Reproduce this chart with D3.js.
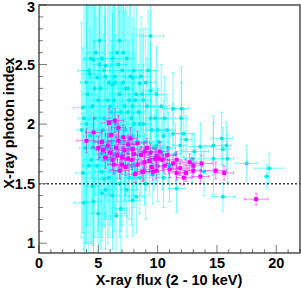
<!DOCTYPE html>
<html>
<head>
<meta charset="utf-8">
<script src="https://cdn.jsdelivr.net/npm/d3@7"></script>
<style>
  body { margin: 0; background: #fff; }
  text { font-family: "Liberation Sans", Arial, sans-serif; font-weight: bold; }
</style>
</head>
<body>
<div id="chart"></div>
<script>
// cyan sample: flux, photon index, and their errors
var cyanX = [9.4, 4.6, 4.2, 4.3, 4.9, 3.7, 11.3, 12.0, 12.0, 11.3, 12.2, 12.4, 15.4, 15.8, 15.5, 13.6, 14.7, 13.1, 14.7, 15.9,
  17.5, 19.4, 19.2, 15.5, 11.6, 3.7, 4.5, 3.8, 4.6, 5.0, 6.5, 6.9, 5.3, 7.9, 8.2, 5.5,
  5.2, 5.8, 6.1, 6.4, 6.8, 7.2, 7.5, 7.8, 8.1, 8.4, 8.8, 9.1, 9.5, 9.8,
  4.0, 4.3, 4.7, 5.0, 5.4, 5.7, 6.0, 6.3, 6.6, 6.9, 7.3, 7.6, 7.9, 8.3, 8.6, 9.0, 9.3, 9.7, 10.1, 10.4, 10.8,
  4.1, 4.5, 4.8, 5.1, 5.6, 6.2, 6.6, 7.0, 7.4, 7.7, 8.0, 8.6, 9.0, 9.9, 10.3, 10.6,
  4.4, 4.9, 5.3, 5.9, 6.4, 6.8, 7.2, 7.6, 8.0, 8.5, 8.9, 9.6, 10.0, 10.5, 11.0, 11.5,
  3.9, 3.6, 5.5, 6.5, 7.5, 8.5, 9.2, 12.9, 13.9, 10.5, 9.9, 5.6, 6.7, 7.1, 7.9, 8.5, 6.2, 9.4,
  4.0, 4.4, 5.0, 5.3, 5.9, 6.0, 6.3, 6.9, 7.3, 7.6, 8.2, 8.8, 3.8, 4.2, 4.6, 5.2, 5.8, 6.2, 7.0, 7.8,
  8.0, 9.4, 10.0, 10.9, 5.6, 6.2, 7.4, 9.0, 11.9,
  4.7, 5.5, 6.4, 7.1, 7.9, 8.7, 5.1, 6.8];
var cyanY = [2.74, 2.54, 2.45, 2.42, 2.39, 2.14, 2.13, 2.13, 2.05, 1.92, 1.92, 1.87, 1.88, 1.82, 1.79, 1.81, 1.82, 1.77, 1.71, 1.71,
  1.67, 1.63, 1.56, 1.39, 1.46, 1.59, 1.48, 1.34, 1.35, 1.25, 1.23, 1.29, 1.42, 1.36, 1.39, 1.54,
  2.30, 2.20, 2.10, 2.35, 2.25, 2.15, 2.30, 2.05, 2.20, 2.10, 2.00, 2.15, 1.95, 2.05,
  2.00, 1.90, 2.05, 1.85, 1.95, 1.80, 1.90, 1.75, 1.95, 1.85, 1.95, 1.80, 1.90, 1.85, 1.75, 1.85, 1.70, 1.80, 1.85, 1.75, 1.95,
  2.25, 2.15, 2.60, 2.70, 2.40, 2.55, 2.60, 2.45, 2.55, 2.40, 2.45, 2.40, 2.35, 2.25, 2.15, 2.05,
  1.70, 1.65, 1.60, 1.55, 1.60, 1.50, 1.65, 1.55, 1.65, 1.55, 1.62, 1.58, 1.65, 1.55, 1.65, 1.75,
  1.80, 1.95, 2.05, 2.00, 2.10, 2.00, 2.45, 1.71, 1.60, 1.90, 1.82, 2.49, 2.50, 2.60, 2.39, 2.34, 2.33, 2.28,
  2.35, 2.55, 2.20, 2.55, 2.35, 2.15, 2.20, 2.10, 2.30, 2.20, 2.25, 2.20, 2.05, 1.65, 1.80, 1.75, 1.70, 1.85, 1.75, 1.65,
  2.00, 2.05, 1.95, 1.80, 1.45, 1.40, 1.45, 1.50, 1.82,
  2.30, 2.45, 2.40, 2.35, 2.15, 2.25, 2.50, 2.70];
var cyanXErr = [1.1, 0.8, 0.9, 0.6, 0.7, 0.8, 0.9, 0.6, 0.5, 0.7, 0.8, 0.5, 0.9, 0.4, 0.6, 0.9, 0.8, 1.2, 0.8, 0.5,
  0.9, 1.2, 0.2, 1.0, 0.7, 0.6, 0.5, 0.8, 0.6, 0.6, 0.9, 0.5, 0.7, 0.6, 0.7, 0.8,
  0.6, 0.5, 0.7, 0.5, 0.8, 0.6, 0.5, 0.7, 0.6, 0.5, 0.7, 0.6, 0.8, 0.5,
  0.5, 0.6, 0.5, 0.7, 0.6, 0.5, 0.6, 0.7, 0.5, 0.6, 0.8, 0.6, 0.5, 0.7, 0.6, 0.6, 0.5, 0.7, 0.8, 0.6, 0.7,
  0.4, 0.7, 0.6, 0.5, 0.7, 0.6, 0.5, 0.7, 0.6, 0.5, 0.6, 0.6, 0.7, 0.6, 0.7, 0.6,
  0.6, 0.5, 0.6, 0.7, 0.5, 0.6, 0.6, 0.7, 0.5, 0.6, 0.7, 0.6, 0.5, 0.7, 0.6, 0.5,
  0.5, 0.4, 0.6, 0.6, 0.5, 0.5, 0.6, 0.6, 0.8, 0.6, 0.7, 0.5, 0.7, 0.5, 0.6, 0.5, 0.7, 0.6,
  0.5, 0.6, 0.5, 0.6, 0.5, 0.6, 0.7, 0.5, 0.6, 0.5, 0.6, 0.5, 0.5, 0.5, 0.6, 0.5, 0.6, 0.5, 0.6, 0.5,
  0.6, 0.6, 0.6, 0.6, 0.5, 0.6, 0.5, 0.6, 0.6,
  0.6, 0.5, 0.7, 0.6, 0.5, 0.6, 0.7, 0.5];
var cyanYErr = [0.6, 0.7, 0.8, 0.6, 0.5, 0.5, 0.3, 0.35, 0.3, 0.25, 0.2, 0.2, 0.22, 0.2, 0.18, 0.2, 0.25, 0.15, 0.3, 0.2,
  0.15, 0.12, 0.1, 0.12, 0.2, 0.5, 0.5, 0.5, 0.45, 0.4, 0.35, 0.4, 0.4, 0.3, 0.3, 0.4,
  0.7, 0.8, 0.6, 0.9, 0.7, 0.8, 0.6, 0.5, 0.6, 0.4, 0.5, 0.4, 0.35, 0.4,
  1.0, 0.9, 1.0, 0.7, 0.8, 0.6, 0.7, 0.5, 0.6, 0.5, 0.55, 0.45, 0.5, 0.4, 0.35, 0.4, 0.3, 0.35, 0.3, 0.3, 0.3,
  1.1, 0.9, 1.2, 1.0, 0.8, 0.9, 1.0, 0.7, 0.8, 0.6, 0.7, 0.5, 0.45, 0.4, 0.35, 0.35,
  0.7, 0.6, 0.55, 0.5, 0.5, 0.45, 0.4, 0.35, 0.35, 0.3, 0.3, 0.25, 0.3, 0.25, 0.3, 0.25,
  0.8, 0.9, 0.85, 0.75, 0.6, 0.45, 0.5, 0.2, 0.2, 0.3, 0.3, 0.6, 0.7, 0.8, 0.5, 0.45, 0.6, 0.4,
  1.2, 1.0, 1.1, 0.9, 1.0, 1.0, 0.9, 1.0, 0.9, 0.8, 0.8, 0.6, 1.1, 0.8, 0.9, 0.8, 0.7, 0.8, 0.6, 0.5,
  0.6, 0.5, 0.35, 0.3, 0.5, 0.45, 0.4, 0.3, 0.25,
  0.9, 0.8, 0.7, 0.75, 0.6, 0.5, 0.9, 0.8];

// magenta sample
var magX = [5.9, 6.4, 4.6, 4.0, 5.3, 6.1, 6.7, 5.4, 6.0, 7.1, 7.5, 7.9, 8.3, 6.2, 7.0, 7.5, 6.8, 8.7, 8.3, 8.9,
  9.4, 9.8, 10.2, 9.9, 11.6, 13.7, 13.0, 11.6, 12.4, 13.0, 14.9, 15.6, 13.6, 12.2, 18.3, 9.9, 8.8, 10.1,
  6.5, 7.2, 7.8, 8.6, 9.1, 10.6, 11.0, 6.3, 7.3, 9.5, 10.8, 5.8, 12.7, 8.1, 11.9,
  5.0, 5.6, 6.6, 7.7, 8.0, 8.9, 9.3, 10.4, 7.0, 6.7, 9.6, 11.3];
var magY = [2.01, 2.03, 1.93, 1.86, 1.85, 1.91, 1.86, 1.78, 1.76, 1.89, 1.83, 1.79, 1.84, 1.70, 1.72, 1.71, 1.61, 1.60, 1.66, 1.68,
  1.76, 1.71, 1.77, 1.73, 1.70, 1.67, 1.65, 1.59, 1.59, 1.61, 1.61, 1.59, 1.56, 1.55, 1.37, 1.61, 1.60, 1.71,
  1.80, 1.78, 1.70, 1.74, 1.80, 1.65, 1.62, 1.66, 1.64, 1.64, 1.74, 1.82, 1.68, 1.58, 1.63,
  1.80, 1.72, 1.74, 1.88, 1.75, 1.77, 1.69, 1.70, 1.66, 1.97, 1.60, 1.67];
var magXErr = [0.6, 0.7, 0.7, 0.8, 0.6, 0.5, 0.9, 0.6, 0.5, 0.6, 0.7, 0.6, 0.5, 0.7, 0.6, 0.6, 0.8, 0.6, 0.7, 0.6,
  0.7, 0.6, 0.7, 0.6, 0.8, 0.9, 0.8, 0.7, 0.6, 0.7, 0.9, 0.8, 0.7, 0.6, 1.0, 0.6, 0.5, 0.6,
  0.6, 0.5, 0.6, 0.6, 0.5, 0.7, 0.6, 0.5, 0.6, 0.6, 0.7, 0.6, 0.6, 0.6, 0.7,
  0.6, 0.5, 0.6, 0.5, 0.6, 0.5, 0.6, 0.6, 0.5, 0.6, 0.5, 0.6];
var magYErr = [0.12, 0.1, 0.12, 0.1, 0.1, 0.12, 0.1, 0.09, 0.1, 0.1, 0.08, 0.09, 0.1, 0.08, 0.09, 0.08, 0.07, 0.08, 0.08, 0.07,
  0.08, 0.08, 0.08, 0.07, 0.07, 0.07, 0.06, 0.06, 0.07, 0.06, 0.07, 0.06, 0.06, 0.06, 0.05, 0.07, 0.07, 0.07,
  0.09, 0.08, 0.08, 0.07, 0.08, 0.07, 0.07, 0.08, 0.07, 0.07, 0.07, 0.1, 0.07, 0.07, 0.06,
  0.1, 0.09, 0.09, 0.09, 0.08, 0.08, 0.07, 0.07, 0.08, 0.1, 0.07, 0.07];

var xTicks = [0, 5, 10, 15, 20];
var yTicks = [1, 1.5, 2, 2.5, 3];
var refLine = 1.5;

var svgWidth = 301, svgHeight = 289;
var margin = { top: 5, right: 1, bottom: 36, left: 39 };
var width = svgWidth - margin.left - margin.right;
var height = svgHeight - margin.top - margin.bottom;

var svg = d3.select("#chart").append("svg")
  .attr("width", svgWidth)
  .attr("height", svgHeight);

var g = svg.append("g")
  .attr("transform", `translate(${margin.left}, ${margin.top})`);

var x = d3.scaleLinear().domain([0, 22]).range([0, width]);
var y = d3.scaleLinear().domain([0.918, 3]).range([height, 0]);

g.append("clipPath").attr("id", "frame")
  .append("rect").attr("width", width).attr("height", height);

var plot = g.append("g").attr("clip-path", "url(#frame)");

function toPoints(xs, ys, xe, ye) {
  return xs.map((v, i) => ({ x: v, y: ys[i], xe: xe[i], ye: ye[i] }));
}

function drawSeries(data, color, markerColor, shape, alpha) {
  var bars = plot.append("g")
    .attr("stroke", color)
    .attr("stroke-opacity", alpha)
    .attr("stroke-width", 1);
  data.forEach(function(d) {
    var px = x(d.x), py = y(d.y);
    var x0 = x(d.x - d.xe), x1 = x(d.x + d.xe);
    var y0 = y(d.y - d.ye), y1 = y(d.y + d.ye);
    bars.append("line").attr("x1", x0).attr("x2", x1).attr("y1", py).attr("y2", py);
    bars.append("line").attr("x1", px).attr("x2", px).attr("y1", y0).attr("y2", y1);
    // end caps
    bars.append("line").attr("x1", x0).attr("x2", x0).attr("y1", py - 1.5).attr("y2", py + 1.5);
    bars.append("line").attr("x1", x1).attr("x2", x1).attr("y1", py - 1.5).attr("y2", py + 1.5);
    bars.append("line").attr("x1", px - 1.5).attr("x2", px + 1.5).attr("y1", y0).attr("y2", y0);
    bars.append("line").attr("x1", px - 1.5).attr("x2", px + 1.5).attr("y1", y1).attr("y2", y1);
  });
  if (shape === "square") {
    plot.append("g").selectAll("rect")
      .data(data).enter().append("rect")
      .attr("x", d => x(d.x) - 2)
      .attr("y", d => y(d.y) - 2)
      .attr("width", 4).attr("height", 4)
      .attr("fill", markerColor);
  } else {
    plot.append("g").selectAll("circle")
      .data(data).enter().append("circle")
      .attr("cx", d => x(d.x))
      .attr("cy", d => y(d.y))
      .attr("r", 2)
      .attr("fill", markerColor);
  }
}

drawSeries(toPoints(cyanX, cyanY, cyanXErr, cyanYErr), "#00ffff", "#00eaea", "circle", 0.55);
drawSeries(toPoints(magX, magY, magXErr, magYErr), "#ff00ff", "#ff00ff", "square", 0.5);

// dotted reference line
g.append("line")
  .attr("x1", 0).attr("x2", width)
  .attr("y1", y(refLine)).attr("y2", y(refLine))
  .attr("stroke", "#444")
  .attr("stroke-width", 1.5)
  .attr("stroke-dasharray", "2,2");

// ticks drawn inward like ROOT
var tickG = g.append("g").attr("stroke", "#777").attr("stroke-width", 1);
d3.range(0, 23, 1).forEach(function(v) {
  var len = v % 5 === 0 ? 8 : 4;
  tickG.append("line").attr("x1", x(v)).attr("x2", x(v)).attr("y1", height).attr("y2", height - len);
});
d3.range(10, 31, 1).forEach(function(v) {
  var len = v % 5 === 0 ? 8 : 4;
  tickG.append("line").attr("x1", 0).attr("x2", len).attr("y1", y(v / 10)).attr("y2", y(v / 10));
});

// frame
g.append("rect")
  .attr("width", width).attr("height", height)
  .attr("fill", "none")
  .attr("stroke", "#222")
  .attr("stroke-width", 1.2);

// tick labels
g.selectAll(".xlab").data(xTicks).enter().append("text")
  .attr("x", d => x(d))
  .attr("y", height + 15)
  .attr("text-anchor", "middle")
  .style("font-size", "14.5px")
  .text(d => d);

g.selectAll(".ylab").data(yTicks).enter().append("text")
  .attr("x", -4)
  .attr("y", d => Math.max(y(d) + 5, 7))
  .attr("text-anchor", "end")
  .style("font-size", "14.5px")
  .text(d => d);

// axis titles
svg.append("text")
  .attr("x", 169)
  .attr("y", 285)
  .attr("text-anchor", "middle")
  .style("font-size", "14.5px")
  .text("X-ray flux (2 - 10 keV)");

svg.append("text")
  .attr("transform", "translate(14, 123) rotate(-90)")
  .attr("text-anchor", "middle")
  .style("font-size", "14.5px")
  .text("X-ray photon index");
</script>
</body>
</html>
